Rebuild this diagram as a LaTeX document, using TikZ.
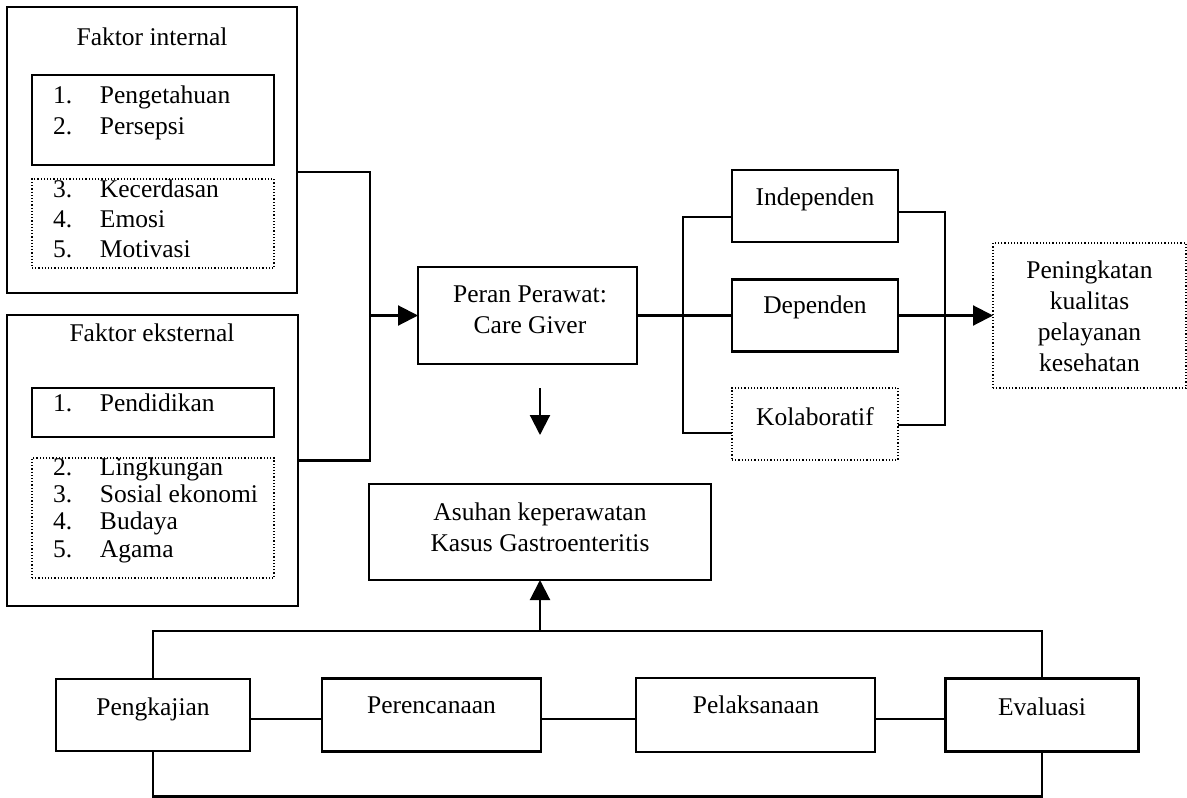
\documentclass[tikz,border=0pt]{standalone}
\usepackage{fontspec}
\setmainfont{Liberation Serif}
\usetikzlibrary{arrows.meta}
\newcommand\numitem[2]{\makebox[47pt][l]{#1}#2}
\begin{document}
\begin{tikzpicture}[x=1pt,y=-1pt,
  every node/.style={font=\fontsize{25.5}{31}\selectfont, inner sep=0pt, outer sep=0pt},
  sbox/.style={draw, line width=2.1pt},
  dbox/.style={draw, line width=1.2pt, dash pattern=on 1.2pt off 2pt},
  wire/.style={line width=2.1pt},
  arr/.style={wire, -{Triangle[length=20pt,width=20pt]}},
  txt/.style={anchor=base},
  itm/.style={anchor=base west},
  mtxt/.style={anchor=north, align=center},
]
\useasboundingbox (0,0) rectangle (1187,798);

% ---------- Faktor internal ----------
\node[sbox, minimum width=290pt, minimum height=286pt] (fi) at (152,150) {};
\node[txt] (fiT) at (152,45) {Faktor internal};
\node[sbox, minimum width=242pt, minimum height=90pt] (fiA) at (153,120) {};
\node[dbox, minimum width=242pt, minimum height=89pt] (fiB) at (153,223.5) {};
\node[itm] (fi1) at (53,103) {\numitem{1.}{Pengetahuan}};
\node[itm] (fi2) at (53,134) {\numitem{2.}{Persepsi}};
\node[itm] (fi3) at (53,197) {\numitem{3.}{Kecerdasan}};
\node[itm] (fi4) at (53,227) {\numitem{4.}{Emosi}};
\node[itm] (fi5) at (53,257) {\numitem{5.}{Motivasi}};

% ---------- Faktor eksternal ----------
\node[sbox, minimum width=291pt, minimum height=291pt] (fe) at (152.5,460.5) {};
\node[txt] (feT) at (152,341.5) {Faktor eksternal};
\node[sbox, minimum width=242pt, minimum height=49pt] (feA) at (153,412.5) {};
\node[dbox, minimum width=242pt, minimum height=120pt] (feB) at (153,518) {};
\node[itm] (fe1) at (53,411) {\numitem{1.}{Pendidikan}};
\node[itm] (fe2) at (53,475) {\numitem{2.}{Lingkungan}};
\node[itm] (fe3) at (53,502) {\numitem{3.}{Sosial ekonomi}};
\node[itm] (fe4) at (53,529) {\numitem{4.}{Budaya}};
\node[itm] (fe5) at (53,557) {\numitem{5.}{Agama}};

% ---------- Peran Perawat ----------
\node[sbox, minimum width=219pt, minimum height=97pt] (peran) at (527.5,315.5) {};
\node[mtxt] (peranT) at (530,286) {Peran Perawat:\\Care Giver};

% ---------- Independen / Dependen / Kolaboratif ----------
\node[sbox, minimum width=166pt, minimum height=72pt] (indep) at (815,206) {};
\node[txt] (indepT) at (815,205) {Independen};
\node[sbox, minimum width=166pt, minimum height=72pt] (dep) at (815,315.5) {};
\node[txt] (depT) at (815,313) {Dependen};
\node[dbox, minimum width=166pt, minimum height=72pt] (kolab) at (815,424) {};
\node[txt] (kolabT) at (815,425) {Kolaboratif};

% ---------- Peningkatan ----------
\node[dbox, minimum width=193pt, minimum height=145pt] (pen) at (1089.5,315.5) {};
\node[mtxt] (penT) at (1089.5,260.5) {Peningkatan\\kualitas\\pelayanan\\kesehatan};

% ---------- Asuhan keperawatan ----------
\node[sbox, minimum width=342pt, minimum height=96pt] (asuhan) at (540,532) {};
\node[mtxt] (asuhanT) at (540,502.5) {Asuhan keperawatan\\Kasus Gastroenteritis};

% ---------- bottom row ----------
\node[sbox, minimum width=194pt, minimum height=72pt] (pengk) at (153,715) {};
\node[txt] (pengkT) at (153,715) {Pengkajian};
\node[sbox, minimum width=219pt, minimum height=73pt] (peren) at (431.5,715) {};
\node[txt] (perenT) at (431.5,713) {Perencanaan};
\node[sbox, minimum width=239pt, minimum height=74pt] (pelak) at (755.5,715) {};
\node[txt] (pelakT) at (756,713) {Pelaksanaan};
\node[sbox, minimum width=193pt, minimum height=73pt] (eval) at (1042,715) {};
\node[txt] (evalT) at (1042,715) {Evaluasi};

% ---------- connectors ----------
\coordinate (jB) at (370,460.5);
\coordinate (jC) at (370,315.5);
\draw[wire] ([yshift=-22pt]fi.east) -| (jB) -- (fe.east);
\draw[arr] (jC) -- (peran.west);

\draw[wire] (peran.east) -- (dep.west);
\coordinate (lbBot) at (683,433);
\draw[wire] ([yshift=-11pt]indep.west) -| (lbBot) -- ([yshift=-9pt]kolab.west);

\coordinate (rbBot) at (945,425);
\draw[wire] ([yshift=-6pt]indep.east) -| (rbBot) -- ([yshift=-1pt]kolab.east);
\draw[arr] (dep.east) -- (pen.west);

\coordinate (dA) at (540,388);
\coordinate (dB) at (540,435);
\draw[arr] (dA) -- (dB);

\coordinate (tl) at (153,631);
\coordinate (tr) at (1042,631);
\coordinate (tm) at (540,631);
\draw[wire] (pengk.north) -- (tl) -- (tr) -- (eval.north);
\draw[arr] (tm) -- (asuhan.south);

\coordinate (bl) at (153,796.5);
\coordinate (br) at (1042,796.5);
\draw[wire] (pengk.south) -- (bl) -- (br) -- (eval.south);

\draw[wire] ([yshift=-4pt]pengk.east) -- ([yshift=-4pt]peren.west);
\draw[wire] ([yshift=-4pt]peren.east) -- ([yshift=-4pt]pelak.west);
\draw[wire] ([yshift=-4pt]pelak.east) -- ([yshift=-4pt]eval.west);
\end{tikzpicture}
\end{document}
